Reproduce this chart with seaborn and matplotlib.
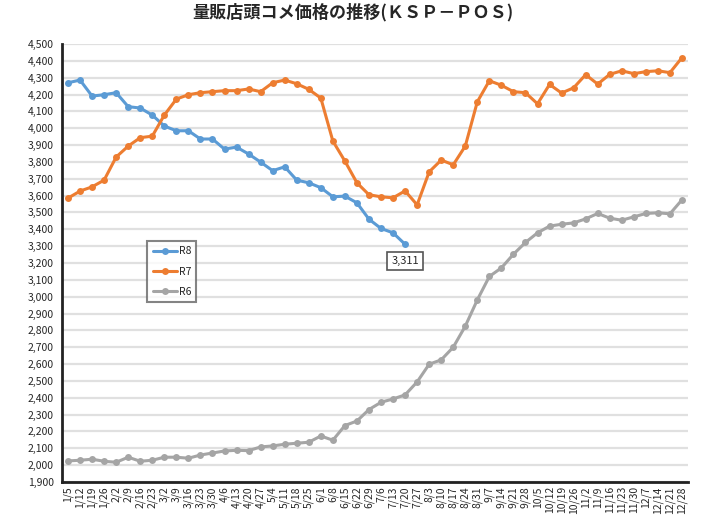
import seaborn as sns
import numpy as np
import matplotlib.pyplot as plt
import pandas as pd

# weekly labels
weeks = ["1/5", "1/12", "1/19", "1/26", "2/2", "2/9", "2/16", "2/23", "3/2", "3/9",
         "3/16", "3/23", "3/30", "4/6", "4/13", "4/20", "4/27", "5/4", "5/11", "5/18",
         "5/25", "6/1", "6/8", "6/15", "6/22", "6/29", "7/6", "7/13", "7/20", "7/27",
         "8/3", "8/10", "8/17", "8/24", "8/31", "9/7", "9/14", "9/21", "9/28", "10/5",
         "10/12", "10/19", "10/26", "11/2", "11/9", "11/16", "11/23", "11/30", "12/7",
         "12/14", "12/21", "12/28"]

# prices
r8 = [4270, 4286, 4191, 4199, 4211, 4128, 4120, 4078, 4013, 3985,
      3985, 3936, 3936, 3876, 3888, 3847, 3799, 3748, 3771, 3692,
      3676, 3647, 3593, 3597, 3557, 3460, 3405, 3379, 3311]
r7 = [3585, 3627, 3652, 3692, 3829, 3894, 3944, 3953, 4078, 4173,
      4199, 4211, 4217, 4223, 4223, 4233, 4217, 4270, 4286, 4264,
      4231, 4179, 3924, 3805, 3676, 3605, 3593, 3587, 3628, 3545,
      3741, 3811, 3783, 3894, 4157, 4282, 4255, 4217, 4211, 4145,
      4260, 4209, 4240, 4318, 4262, 4320, 4341, 4324, 4336, 4341,
      4330, 4419]
r6 = [2025, 2029, 2035, 2023, 2017, 2047, 2023, 2029, 2047, 2047,
      2041, 2060, 2072, 2084, 2088, 2086, 2108, 2114, 2124, 2130,
      2136, 2173, 2148, 2235, 2262, 2330, 2373, 2393, 2417, 2494,
      2599, 2625, 2700, 2825, 2981, 3120, 3171, 3252, 3322, 3379,
      3419, 3430, 3438, 3462, 3494, 3466, 3454, 3474, 3494, 3498,
      3492, 3575]

series = {"R8": r8, "R7": r7, "R6": r6}
rows = []
for name, vals in series.items():
    for i, v in enumerate(vals):
        rows.append({"week": i, "price": v, "year": name})
df = pd.DataFrame(rows)

sns.set_style("white")
plt.rcParams['font.family'] = ['Noto Sans CJK JP', 'DejaVu Sans']

fig = plt.figure(figsize=(7.06, 5.24), dpi=100)
ax = fig.add_axes([0.0878, 0.0802, 0.8867, 0.8358])

palette = {"R8": "#5B9BD5", "R7": "#ED7D31", "R6": "#A5A5A5"}
sns.lineplot(data=df, x="week", y="price", hue="year", hue_order=["R8", "R7", "R6"],
             palette=palette, marker="o", markersize=5, markeredgewidth=0,
             linewidth=2.2, ax=ax)

# axes
ax.set_xlim(-0.5, len(weeks) - 0.5)
ax.set_ylim(1900, 4500)
ax.set_yticks(np.arange(1900, 4501, 100))
ax.set_yticklabels([f"{v:,}" for v in range(1900, 4501, 100)], fontsize=7.5)
ax.set_xticks(range(len(weeks)))
ax.set_xticklabels(weeks, rotation=90, fontsize=7.5)
ax.set_xticks(np.arange(0.5, len(weeks) - 0.5, 1), minor=True)
ax.tick_params(axis="x", which="major", length=0, pad=3)
ax.tick_params(axis="x", which="minor", length=4, width=1.2, color="#222222", direction="out")
ax.tick_params(axis="y", length=0, pad=6)
ax.set_xlabel("")
ax.set_ylabel("")
ax.yaxis.grid(True, color="#e0e0e0", linewidth=1.6)
ax.set_axisbelow(True)
for s in ["top", "right"]:
    ax.spines[s].set_visible(False)
ax.spines["left"].set_linewidth(2)
ax.spines["left"].set_color("#222222")
ax.spines["bottom"].set_linewidth(2)
ax.spines["bottom"].set_color("#222222")

# legend
leg = ax.legend(loc="upper left", bbox_to_anchor=(0.1365, 0.55), fontsize=7.5,
                frameon=True, fancybox=False, handlelength=2.3, handletextpad=0.2,
                borderpad=0.5, labelspacing=1.0, borderaxespad=0)
leg.get_frame().set_edgecolor("#666666")
leg.get_frame().set_linewidth(1.5)

# last R8 value label
last = len(r8) - 1
ax.annotate(f"{r8[last]:,}", xy=(last, r8[last]), xytext=(0, -17),
            textcoords="offset pixels", ha="center", va="center", fontsize=8,
            bbox=dict(boxstyle="square,pad=0.35", fc="white", ec="#555555", lw=1.2))

fig.suptitle("量販店頭コメ価格の推移(ＫＳＰ－ＰＯＳ)", x=0.5, y=0.995, fontsize=12.3,
             fontweight="bold")

plt.savefig("out.png", dpi=100)
